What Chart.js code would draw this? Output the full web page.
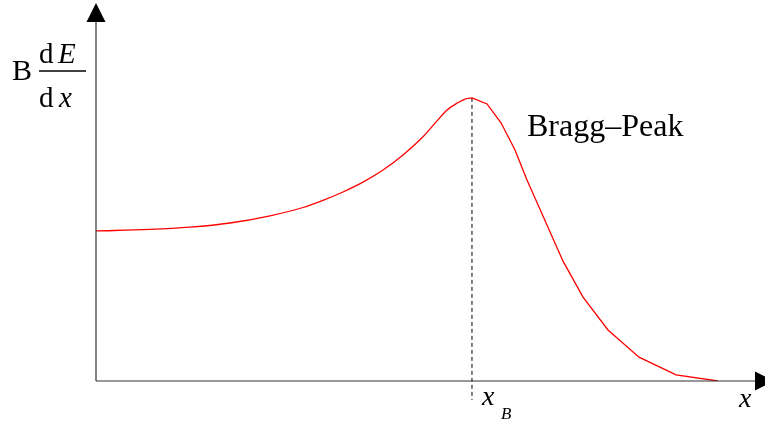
<!DOCTYPE html>
<html>
<head>
<meta charset="utf-8">
<script src="https://cdn.jsdelivr.net/npm/chart.js@4"></script>
<style>
  html, body { margin: 0; padding: 0; background: #fff; }
  #wrap { width: 765px; height: 421px; }
</style>
</head>
<body>
<div id="wrap"><canvas id="bragg"></canvas></div>
<script>
// depth (arbitrary units) and energy loss B dE/dx (arbitrary units)
// rising part up to the peak, drawn smooth
const risingDepth = [0, 8.07, 14.05, 20.03, 26.01, 30.94, 33.93, 36.92, 39.91, 42.90, 45.89, 48.88,
  50.97, 52.47, 53.96, 55.16, 56.2];
const risingLoss = [39.7, 40.1, 40.7, 41.8, 43.7, 45.9, 47.8, 50.0, 52.6, 55.8, 59.8, 64.6,
  68.8, 71.7, 73.5, 74.6, 74.9];

// falling edge after the peak, drawn as straight segments
const fallingDepth = [56.2, 58.45, 60.54, 62.63, 64.42, 65.62, 69.81, 72.80, 76.53, 81.17, 86.70, 92.97];
const fallingLoss = [74.9, 73.3, 68.3, 61.1, 53.2, 48.4, 31.7, 22.2, 13.5, 6.3, 1.6, 0];

const peakX = 56.2;
const peakY = 74.9;
const markerBottom = -5;

function toPoints(xs, ys) {
  return xs.map(function (x, i) { return { x: x, y: ys[i] }; });
}

// axes with arrow heads + the formula labels
const axesPlugin = {
  id: "axesPlugin",
  afterDatasetsDraw: function (chart) {
    const ctx = chart.ctx;
    const xs = chart.scales.x;
    const ys = chart.scales.y;
    const x0 = xs.getPixelForValue(0);
    const y0 = ys.getPixelForValue(0);
    const top = chart.chartArea.top;
    const right = chart.chartArea.right;

    ctx.save();
    ctx.strokeStyle = "#333";
    ctx.fillStyle = "#000";
    ctx.lineWidth = 1.2;

    ctx.beginPath();
    ctx.moveTo(x0, y0);
    ctx.lineTo(x0, top + 18);
    ctx.moveTo(x0, y0);
    ctx.lineTo(right - 10, y0);
    ctx.stroke();

    // y arrow
    ctx.beginPath();
    ctx.moveTo(x0, top);
    ctx.lineTo(x0 - 9.5, top + 19);
    ctx.lineTo(x0 + 9.5, top + 19);
    ctx.closePath();
    ctx.fill();

    // x arrow
    ctx.beginPath();
    ctx.moveTo(right + 9, y0);
    ctx.lineTo(right - 10, y0 - 9.5);
    ctx.lineTo(right - 10, y0 + 9.5);
    ctx.closePath();
    ctx.fill();

    ctx.textBaseline = "alphabetic";
    ctx.textAlign = "left";

    // B dE/dx
    ctx.font = "30px 'Liberation Serif'";
    ctx.fillText("B", 12, 80);
    ctx.font = "29px 'Liberation Serif'";
    ctx.fillText("d", 39, 63);
    ctx.fillText("d", 39, 107);
    ctx.font = "italic 29px 'Liberation Serif'";
    ctx.fillText("E", 58, 63);
    ctx.fillText("x", 59, 107);
    ctx.lineWidth = 1.6;
    ctx.strokeStyle = "#000";
    ctx.beginPath();
    ctx.moveTo(39, 71);
    ctx.lineTo(86, 71);
    ctx.stroke();

    // peak label
    ctx.font = "32px 'Liberation Serif'";
    ctx.fillText("Bragg\u2013Peak", 527, 136);

    // x_B
    const xb = xs.getPixelForValue(peakX);
    ctx.font = "italic 28px 'Liberation Serif'";
    ctx.fillText("x", xb + 10, 405);
    ctx.font = "italic 17px 'Liberation Serif'";
    ctx.fillText("B", xb + 29, 419);

    // x axis label
    ctx.font = "italic 28px 'Liberation Serif'";
    ctx.fillText("x", 739, 407);
    ctx.restore();
  }
};

new Chart(document.getElementById("bragg"), {
  type: "line",
  data: {
    datasets: [
      {
        data: toPoints(risingDepth, risingLoss),
        borderColor: "#ff0000",
        borderWidth: 1.3,
        pointRadius: 0,
        cubicInterpolationMode: "monotone",
        fill: false
      },
      {
        data: toPoints(fallingDepth, fallingLoss),
        borderColor: "#ff0000",
        borderWidth: 1.3,
        pointRadius: 0,
        tension: 0,
        fill: false
      },
      {
        data: [{ x: peakX, y: peakY }, { x: peakX, y: markerBottom }],
        borderColor: "#000",
        borderWidth: 1,
        borderDash: [4, 3],
        pointRadius: 0,
        clip: false
      }
    ]
  },
  plugins: [axesPlugin],
  options: {
    responsive: true,
    maintainAspectRatio: false,
    animation: false,
    layout: { padding: { left: 96, top: 3, right: 0, bottom: 40 } },
    plugins: { legend: { display: false }, tooltip: { enabled: false } },
    scales: {
      x: { type: "linear", min: 0, max: 100, display: false },
      y: { type: "linear", min: 0, max: 100, display: false }
    }
  }
});
</script>
</body>
</html>
